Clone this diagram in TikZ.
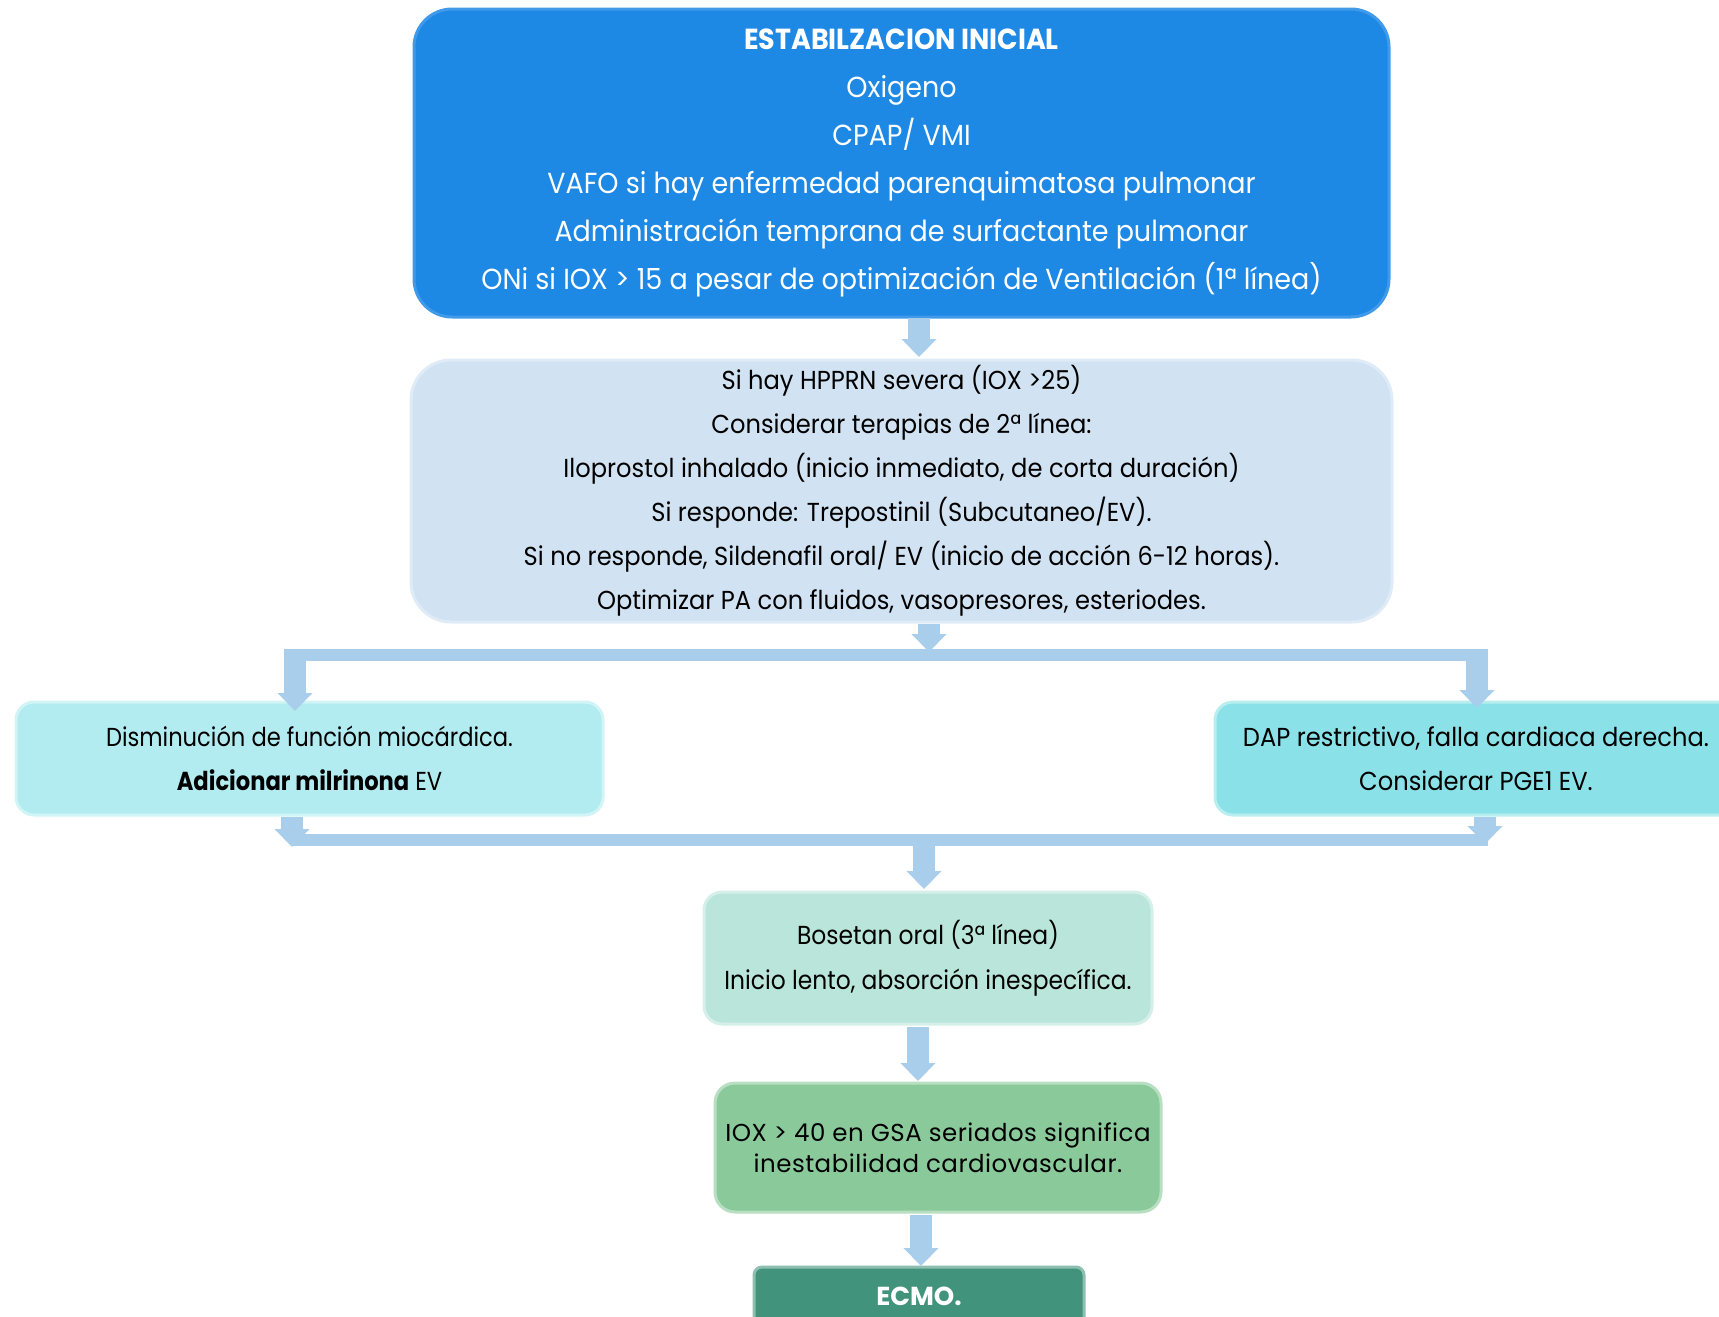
\documentclass[tikz,border=0pt]{standalone}
\usepackage{fontspec}
\setmainfont{Poppins}
\newfontfamily\fa[FakeStretch=0.93]{Poppins}
\newfontfamily\fb[FakeStretch=0.93]{Poppins}
\newfontfamily\fl[FakeStretch=0.87]{Poppins}
\newfontfamily\fo[FakeStretch=0.90]{Poppins}
\newfontfamily\fc[LetterSpace=2]{Poppins}
\usetikzlibrary{arrows.meta}
\definecolor{cone}{RGB}{30,136,229}
\definecolor{ctwo}{RGB}{209,227,243}
\definecolor{cleft}{RGB}{178,236,240}
\definecolor{cright}{RGB}{138,226,232}
\definecolor{cbos}{RGB}{185,229,218}
\definecolor{ciox}{RGB}{138,201,153}
\definecolor{cecmo}{RGB}{66,147,123}
\definecolor{cconn}{RGB}{169,206,236}
\begin{document}
\begin{tikzpicture}[x=1pt,y=-1pt,
  box/.style={rounded corners=#1, align=center, inner sep=0pt, line width=3pt, anchor=center},
  conn/.style={line width=22pt, draw=cconn, -{Triangle[width=34pt,length=18pt]}},
  bar/.style={line width=12pt, draw=cconn}]
\useasboundingbox (0,0) rectangle (1719,1317);
\clip (0,0) rectangle (1719,1317);

% boxes
\node[box=38pt, fill=cone, draw=cone!85!white, text=white, minimum width=975pt, minimum height=308pt,
  font={\fa\fontsize{29}{48}\selectfont}] (b1) at (901.5,163)
  {\textbf{ESTABILZACION INICIAL}\\
   Oxigeno\\
   CPAP/ VMI\\
   VAFO si hay enfermedad parenquimatosa pulmonar\\
   Administración temprana de surfactante pulmonar\\
   ONi si IOX > 15 a pesar de optimización de Ventilación (1ª línea)};

\node[box=40pt, fill=ctwo, draw=ctwo!70!white, minimum width=981pt, minimum height=262pt,
  font={\fb\fontsize{26}{44}\selectfont}] (b2) at (901.5,491)
  {Si hay HPPRN severa (IOX >25)\\
   Considerar terapias de 2ª línea:\\
   Iloprostol inhalado (inicio inmediato, de corta duración)\\
   Si responde: Trepostinil (Subcutaneo/EV).\\
   Si no responde, Sildenafil oral/ EV (inicio de acción 6-12 horas).\\
   Optimizar PA con fluidos, vasopresores, esteriodes.};

\node[box=18pt, fill=cleft, draw=cleft!60!white, minimum width=587pt, minimum height=113pt,
  font={\fl\fontsize{26}{44}\selectfont}] (lb) at (309.5,758.5)
  {Disminución de función miocárdica.\\
   \textbf{Adicionar milrinona} EV};

\node[box=18pt, fill=cright, draw=cright!60!white, minimum width=522pt, minimum height=113pt,
  font={\fb\fontsize{26}{44}\selectfont}] (rb) at (1476,758.5)
  {DAP restrictivo, falla cardiaca derecha.\\
   Considerar PGE1 EV.};

\node[box=18pt, fill=cbos, draw=cbos!60!white, minimum width=448pt, minimum height=132pt,
  font={\fo\fontsize{26}{45}\selectfont}] (bo) at (928,958)
  {Bosetan oral (3ª línea)\\
   Inicio lento, absorción inespecífica.};

\node[box=20pt, fill=ciox, draw=ciox!60!white, minimum width=446pt, minimum height=129pt,
  font={\fc\fontsize{24.5}{31}\selectfont}] (io) at (938,1147.5)
  {IOX > 40 en GSA seriados significa\\
   inestabilidad cardiovascular.};

\node[box=8pt, fill=cecmo, draw=cecmo!60!white, text=white, minimum width=330pt, minimum height=58pt,
  font={\fontsize{26}{30}\selectfont\bfseries}] (ec) at (919,1296)
  {ECMO.};

% junction coordinates
\coordinate (t1) at (919,318);
\coordinate (t2) at (919,357);
\coordinate (u1) at (929,624);
\coordinate (u2) at (929,652);
\coordinate (hl) at (284,655);
\coordinate (hr) at (1488,655);
\coordinate (vl) at (295,650);
\coordinate (vl2) at (295,711);
\coordinate (vr) at (1477,650);
\coordinate (vr2) at (1477,708);
\coordinate (dl) at (292,817);
\coordinate (dl2) at (292,847);
\coordinate (dr) at (1485,817);
\coordinate (dr2) at (1485,844);
\coordinate (gl) at (292,840);
\coordinate (gr) at (1488,840);
\coordinate (m1) at (924,836);
\coordinate (m2) at (924,889);
\coordinate (p1) at (918,1027);
\coordinate (p2) at (918,1081);
\coordinate (q1) at (921,1215);
\coordinate (q2) at (921,1266);

% connectors
\draw[conn] (t1) -- (t2);
\draw[conn] (u1) -- (u2);
\draw[bar] (hl) -- (hr);
\draw[conn] (vl) -- (vl2);
\draw[conn] (vr) -- (vr2);
\draw[conn] (dl) -- (dl2);
\draw[conn] (dr) -- (dr2);
\draw[bar] (gl) -- (gr);
\draw[conn] (m1) -- (m2);
\draw[conn] (p1) -- (p2);
\draw[conn] (q1) -- (q2);
\end{tikzpicture}
\end{document}
